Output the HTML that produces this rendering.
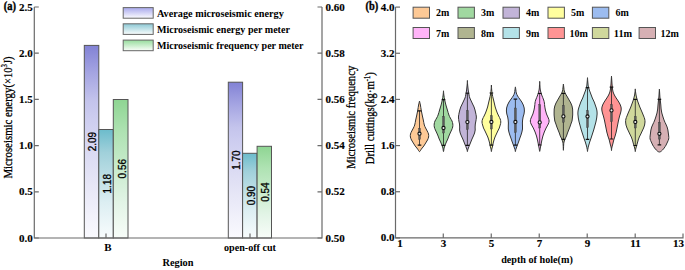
<!DOCTYPE html>
<html><head><meta charset="utf-8"><title>chart</title>
<style>html,body{margin:0;padding:0;background:#fff;}svg{display:block;}</style>
</head><body>
<svg width="685" height="270" viewBox="0 0 685 270"><defs><linearGradient id="gp" x1="0" y1="0" x2="0" y2="1"><stop offset="0" stop-color="rgb(130,130,213)"/><stop offset="0.14" stop-color="rgb(164,164,226)"/><stop offset="0.29" stop-color="rgb(196,196,236)"/><stop offset="0.39" stop-color="rgb(206,206,240)"/><stop offset="0.66" stop-color="rgb(226,226,245)"/><stop offset="1" stop-color="rgb(250,250,254)"/></linearGradient><linearGradient id="gt" x1="0" y1="0" x2="0" y2="1"><stop offset="0" stop-color="rgb(108,188,204)"/><stop offset="0.21" stop-color="rgb(160,208,218)"/><stop offset="0.67" stop-color="rgb(220,238,242)"/><stop offset="1" stop-color="rgb(248,252,253)"/></linearGradient><linearGradient id="gg" x1="0" y1="0" x2="0" y2="1"><stop offset="0" stop-color="rgb(142,213,146)"/><stop offset="0.23" stop-color="rgb(174,226,178)"/><stop offset="0.74" stop-color="rgb(226,244,230)"/><stop offset="1" stop-color="rgb(248,253,249)"/></linearGradient><linearGradient id="lp" x1="0" y1="0" x2="0" y2="1"><stop offset="0" stop-color="rgb(168,168,236)"/><stop offset="1" stop-color="rgb(252,252,255)"/></linearGradient><linearGradient id="lt" x1="0" y1="0" x2="0" y2="1"><stop offset="0" stop-color="rgb(140,200,212)"/><stop offset="1" stop-color="rgb(250,253,253)"/></linearGradient><linearGradient id="lg" x1="0" y1="0" x2="0" y2="1"><stop offset="0" stop-color="rgb(150,220,156)"/><stop offset="1" stop-color="rgb(250,254,250)"/></linearGradient></defs><rect x="84.3" y="45.4" width="14.50" height="192.60" fill="url(#gp)" stroke="#555" stroke-width="1"/>
<rect x="98.8" y="129.5" width="14.50" height="108.50" fill="url(#gt)" stroke="#555" stroke-width="1"/>
<rect x="113.3" y="99.5" width="14.70" height="138.50" fill="url(#gg)" stroke="#555" stroke-width="1"/>
<rect x="228.3" y="82.2" width="14.30" height="155.80" fill="url(#gp)" stroke="#555" stroke-width="1"/>
<rect x="242.6" y="153.3" width="14.50" height="84.70" fill="url(#gt)" stroke="#555" stroke-width="1"/>
<rect x="257.1" y="146.3" width="14.40" height="91.70" fill="url(#gg)" stroke="#555" stroke-width="1"/>
<text transform="translate(96.45,141.70) rotate(-90)" text-anchor="middle" font-size="10" font-family="'Liberation Sans', sans-serif" stroke="#000" stroke-width="0.3" textLength="19.3" lengthAdjust="spacingAndGlyphs" x="0" y="0">2.09</text>
<text transform="translate(110.95,183.75) rotate(-90)" text-anchor="middle" font-size="10" font-family="'Liberation Sans', sans-serif" stroke="#000" stroke-width="0.3" textLength="19.3" lengthAdjust="spacingAndGlyphs" x="0" y="0">1.18</text>
<text transform="translate(125.55,168.75) rotate(-90)" text-anchor="middle" font-size="10" font-family="'Liberation Sans', sans-serif" stroke="#000" stroke-width="0.3" textLength="19.3" lengthAdjust="spacingAndGlyphs" x="0" y="0">0.56</text>
<text transform="translate(240.35,160.10) rotate(-90)" text-anchor="middle" font-size="10" font-family="'Liberation Sans', sans-serif" stroke="#000" stroke-width="0.3" textLength="19.3" lengthAdjust="spacingAndGlyphs" x="0" y="0">1.70</text>
<text transform="translate(254.75,195.65) rotate(-90)" text-anchor="middle" font-size="10" font-family="'Liberation Sans', sans-serif" stroke="#000" stroke-width="0.3" textLength="19.3" lengthAdjust="spacingAndGlyphs" x="0" y="0">0.90</text>
<text transform="translate(269.20,192.15) rotate(-90)" text-anchor="middle" font-size="10" font-family="'Liberation Sans', sans-serif" stroke="#000" stroke-width="0.3" textLength="19.3" lengthAdjust="spacingAndGlyphs" x="0" y="0">0.54</text>
<path d="M34.3,7.0 V238.0 H322.0 V7.0" fill="none" stroke="#6a6a6a" stroke-width="1.2"/>
<path d="M34.3,238.00 h4.5 M322.0,238.00 h-4.5" stroke="#6a6a6a" stroke-width="1.2"/>
<text x="32.8" y="241.50" text-anchor="end" font-size="11" font-weight="bold" font-family="'Liberation Serif', serif" stroke="#000" stroke-width="0.15">0.0</text>
<text x="325.6" y="241.50" text-anchor="start" font-size="11" font-weight="bold" font-family="'Liberation Serif', serif" stroke="#000" stroke-width="0.15">0.50</text>
<path d="M34.3,191.80 h4.5 M322.0,191.80 h-4.5" stroke="#6a6a6a" stroke-width="1.2"/>
<text x="32.8" y="195.30" text-anchor="end" font-size="11" font-weight="bold" font-family="'Liberation Serif', serif" stroke="#000" stroke-width="0.15">0.5</text>
<text x="325.6" y="195.30" text-anchor="start" font-size="11" font-weight="bold" font-family="'Liberation Serif', serif" stroke="#000" stroke-width="0.15">0.52</text>
<path d="M34.3,145.60 h4.5 M322.0,145.60 h-4.5" stroke="#6a6a6a" stroke-width="1.2"/>
<text x="32.8" y="149.10" text-anchor="end" font-size="11" font-weight="bold" font-family="'Liberation Serif', serif" stroke="#000" stroke-width="0.15">1.0</text>
<text x="325.6" y="149.10" text-anchor="start" font-size="11" font-weight="bold" font-family="'Liberation Serif', serif" stroke="#000" stroke-width="0.15">0.54</text>
<path d="M34.3,99.40 h4.5 M322.0,99.40 h-4.5" stroke="#6a6a6a" stroke-width="1.2"/>
<text x="32.8" y="102.90" text-anchor="end" font-size="11" font-weight="bold" font-family="'Liberation Serif', serif" stroke="#000" stroke-width="0.15">1.5</text>
<text x="325.6" y="102.90" text-anchor="start" font-size="11" font-weight="bold" font-family="'Liberation Serif', serif" stroke="#000" stroke-width="0.15">0.56</text>
<path d="M34.3,53.20 h4.5 M322.0,53.20 h-4.5" stroke="#6a6a6a" stroke-width="1.2"/>
<text x="32.8" y="56.70" text-anchor="end" font-size="11" font-weight="bold" font-family="'Liberation Serif', serif" stroke="#000" stroke-width="0.15">2.0</text>
<text x="325.6" y="56.70" text-anchor="start" font-size="11" font-weight="bold" font-family="'Liberation Serif', serif" stroke="#000" stroke-width="0.15">0.58</text>
<path d="M34.3,7.00 h4.5 M322.0,7.00 h-4.5" stroke="#6a6a6a" stroke-width="1.2"/>
<text x="32.8" y="10.50" text-anchor="end" font-size="11" font-weight="bold" font-family="'Liberation Serif', serif" stroke="#000" stroke-width="0.15">2.5</text>
<text x="325.6" y="10.50" text-anchor="start" font-size="11" font-weight="bold" font-family="'Liberation Serif', serif" stroke="#000" stroke-width="0.15">0.60</text>
<path d="M106.0,238.0 v-4.5" stroke="#6a6a6a" stroke-width="1.2"/>
<path d="M250.0,238.0 v-4.5" stroke="#6a6a6a" stroke-width="1.2"/>
<text x="108" y="251.3" text-anchor="middle" font-size="11" font-weight="bold" font-family="'Liberation Serif', serif" >B</text>
<text x="250" y="251.2" text-anchor="middle" font-size="11" font-weight="bold" font-family="'Liberation Serif', serif" textLength="52" lengthAdjust="spacingAndGlyphs" >open-off cut</text>
<text x="178" y="266.2" text-anchor="middle" font-size="11" font-weight="bold" font-family="'Liberation Serif', serif" textLength="31" lengthAdjust="spacingAndGlyphs" >Region</text>
<text x="3.7" y="9.7" text-anchor="start" font-size="12" font-weight="bold" font-family="'Liberation Serif', serif" textLength="12.2" lengthAdjust="spacingAndGlyphs" stroke="#000" stroke-width="0.4">(a)</text>
<text transform="translate(11.5,178.6) rotate(-90)" font-size="12" font-weight="normal" stroke="#000" stroke-width="0.3" font-family="'Liberation Serif', serif" textLength="91" lengthAdjust="spacingAndGlyphs">Microseismic energy</text>
<text transform="translate(11.5,87.5) rotate(-90)" font-size="11.5" stroke="#000" stroke-width="0.2" font-family="'Liberation Serif', serif" textLength="31" lengthAdjust="spacingAndGlyphs">(×10<tspan font-size="7.5" dy="-4.5">3</tspan><tspan dy="4.5">J)</tspan></text>
<text transform="translate(355.4,168.8) rotate(-90)" font-size="12.5" font-weight="normal" stroke="#000" stroke-width="0.3" font-family="'Liberation Serif', serif" textLength="103" lengthAdjust="spacingAndGlyphs">Microseismic frequency</text>
<text transform="translate(373.6,164.2) rotate(-90)" font-size="12.5" font-weight="normal" stroke="#000" stroke-width="0.3" font-family="'Liberation Serif', serif" textLength="92" lengthAdjust="spacingAndGlyphs">Drill cuttings(kg·m<tspan font-size="7.5" dy="-4">-1</tspan><tspan dy="4">)</tspan></text>
<rect x="123.2" y="7.6" width="30" height="10.6" fill="url(#lp)" stroke="#666" stroke-width="1"/>
<text x="157" y="16.50" text-anchor="start" font-size="11" font-weight="bold" font-family="'Liberation Serif', serif" textLength="126.8" lengthAdjust="spacingAndGlyphs" >Average microseismic energy</text>
<rect x="123.2" y="23.8" width="30" height="10.6" fill="url(#lt)" stroke="#666" stroke-width="1"/>
<text x="157" y="32.70" text-anchor="start" font-size="11" font-weight="bold" font-family="'Liberation Serif', serif" textLength="132.9" lengthAdjust="spacingAndGlyphs" >Microseismic energy per meter</text>
<rect x="123.2" y="40.1" width="30" height="10.6" fill="url(#lg)" stroke="#666" stroke-width="1"/>
<text x="157" y="49.00" text-anchor="start" font-size="11" font-weight="bold" font-family="'Liberation Serif', serif" textLength="146.5" lengthAdjust="spacingAndGlyphs" >Microseismic frequency per meter</text>
<path d="M395.5,7.1 V237.9 H683.0 v-4.5" fill="none" stroke="#6a6a6a" stroke-width="1.2"/>
<path d="M395.5,237.90 h4.5" stroke="#6a6a6a" stroke-width="1.2"/>
<text x="394.6" y="241.40" text-anchor="end" font-size="11" font-weight="bold" font-family="'Liberation Serif', serif" stroke="#000" stroke-width="0.15">0.0</text>
<path d="M395.5,191.74 h4.5" stroke="#6a6a6a" stroke-width="1.2"/>
<text x="394.6" y="195.24" text-anchor="end" font-size="11" font-weight="bold" font-family="'Liberation Serif', serif" stroke="#000" stroke-width="0.15">0.8</text>
<path d="M395.5,145.58 h4.5" stroke="#6a6a6a" stroke-width="1.2"/>
<text x="394.6" y="149.08" text-anchor="end" font-size="11" font-weight="bold" font-family="'Liberation Serif', serif" stroke="#000" stroke-width="0.15">1.6</text>
<path d="M395.5,99.42 h4.5" stroke="#6a6a6a" stroke-width="1.2"/>
<text x="394.6" y="102.92" text-anchor="end" font-size="11" font-weight="bold" font-family="'Liberation Serif', serif" stroke="#000" stroke-width="0.15">2.4</text>
<path d="M395.5,53.26 h4.5" stroke="#6a6a6a" stroke-width="1.2"/>
<text x="394.6" y="56.76" text-anchor="end" font-size="11" font-weight="bold" font-family="'Liberation Serif', serif" stroke="#000" stroke-width="0.15">3.2</text>
<path d="M395.5,7.10 h4.5" stroke="#6a6a6a" stroke-width="1.2"/>
<text x="394.6" y="10.60" text-anchor="end" font-size="11" font-weight="bold" font-family="'Liberation Serif', serif" stroke="#000" stroke-width="0.15">4.0</text>
<text x="400" y="247.3" text-anchor="middle" font-size="11" font-weight="bold" font-family="'Liberation Serif', serif" stroke="#000" stroke-width="0.15">1</text>
<path d="M443.28,237.9 v-4.5" stroke="#6a6a6a" stroke-width="1.2"/>
<text x="443.58" y="247.3" text-anchor="middle" font-size="11" font-weight="bold" font-family="'Liberation Serif', serif" stroke="#000" stroke-width="0.15">3</text>
<path d="M491.26,237.9 v-4.5" stroke="#6a6a6a" stroke-width="1.2"/>
<text x="491.56" y="247.3" text-anchor="middle" font-size="11" font-weight="bold" font-family="'Liberation Serif', serif" stroke="#000" stroke-width="0.15">5</text>
<path d="M539.24,237.9 v-4.5" stroke="#6a6a6a" stroke-width="1.2"/>
<text x="539.54" y="247.3" text-anchor="middle" font-size="11" font-weight="bold" font-family="'Liberation Serif', serif" stroke="#000" stroke-width="0.15">7</text>
<path d="M587.22,237.9 v-4.5" stroke="#6a6a6a" stroke-width="1.2"/>
<text x="587.52" y="247.3" text-anchor="middle" font-size="11" font-weight="bold" font-family="'Liberation Serif', serif" stroke="#000" stroke-width="0.15">9</text>
<path d="M635.20,237.9 v-4.5" stroke="#6a6a6a" stroke-width="1.2"/>
<text x="635.50" y="247.3" text-anchor="middle" font-size="11" font-weight="bold" font-family="'Liberation Serif', serif" stroke="#000" stroke-width="0.15">11</text>
<text x="684" y="247.3" text-anchor="end" font-size="11" font-weight="bold" font-family="'Liberation Serif', serif" stroke="#000" stroke-width="0.15">13</text>
<text x="537" y="262.6" text-anchor="middle" font-size="11" font-weight="bold" font-family="'Liberation Serif', serif" textLength="71.6" lengthAdjust="spacingAndGlyphs" >depth of hole(m)</text>
<text x="365.6" y="9.7" text-anchor="start" font-size="12" font-weight="bold" font-family="'Liberation Serif', serif" textLength="12.7" lengthAdjust="spacingAndGlyphs" stroke="#000" stroke-width="0.4">(b)</text>
<rect x="413.1" y="7.2" width="16.4" height="11" fill="#FDC996" stroke="#555" stroke-width="1"/>
<text x="436.10" y="16.20" text-anchor="start" font-size="11" font-weight="bold" font-family="'Liberation Serif', serif" textLength="13.3" lengthAdjust="spacingAndGlyphs" >2m</text>
<rect x="458.0" y="7.2" width="16.4" height="11" fill="#A0D8A0" stroke="#555" stroke-width="1"/>
<text x="481.00" y="16.20" text-anchor="start" font-size="11" font-weight="bold" font-family="'Liberation Serif', serif" textLength="13.3" lengthAdjust="spacingAndGlyphs" >3m</text>
<rect x="503.0" y="7.2" width="16.4" height="11" fill="#C2B4D8" stroke="#555" stroke-width="1"/>
<text x="526.00" y="16.20" text-anchor="start" font-size="11" font-weight="bold" font-family="'Liberation Serif', serif" textLength="13.3" lengthAdjust="spacingAndGlyphs" >4m</text>
<rect x="548.0" y="7.2" width="16.4" height="11" fill="#FFFE9E" stroke="#555" stroke-width="1"/>
<text x="571.00" y="16.20" text-anchor="start" font-size="11" font-weight="bold" font-family="'Liberation Serif', serif" textLength="13.3" lengthAdjust="spacingAndGlyphs" >5m</text>
<rect x="592.4" y="7.2" width="16.4" height="11" fill="#9CBCF0" stroke="#555" stroke-width="1"/>
<text x="615.40" y="16.20" text-anchor="start" font-size="11" font-weight="bold" font-family="'Liberation Serif', serif" textLength="13.3" lengthAdjust="spacingAndGlyphs" >6m</text>
<rect x="413.1" y="27.5" width="16.4" height="11" fill="#FFB4F8" stroke="#555" stroke-width="1"/>
<text x="436.10" y="36.50" text-anchor="start" font-size="11" font-weight="bold" font-family="'Liberation Serif', serif" textLength="13.3" lengthAdjust="spacingAndGlyphs" >7m</text>
<rect x="458.0" y="27.5" width="16.4" height="11" fill="#B0B490" stroke="#555" stroke-width="1"/>
<text x="481.00" y="36.50" text-anchor="start" font-size="11" font-weight="bold" font-family="'Liberation Serif', serif" textLength="13.3" lengthAdjust="spacingAndGlyphs" >8m</text>
<rect x="503.0" y="27.5" width="16.4" height="11" fill="#B4E2E8" stroke="#555" stroke-width="1"/>
<text x="526.00" y="36.50" text-anchor="start" font-size="11" font-weight="bold" font-family="'Liberation Serif', serif" textLength="13.3" lengthAdjust="spacingAndGlyphs" >9m</text>
<rect x="548.0" y="27.5" width="16.4" height="11" fill="#FF9494" stroke="#555" stroke-width="1"/>
<text x="569.40" y="36.50" text-anchor="start" font-size="11" font-weight="bold" font-family="'Liberation Serif', serif" textLength="18.4" lengthAdjust="spacingAndGlyphs" >10m</text>
<rect x="592.4" y="27.5" width="16.4" height="11" fill="#D0D89C" stroke="#555" stroke-width="1"/>
<text x="613.80" y="36.50" text-anchor="start" font-size="11" font-weight="bold" font-family="'Liberation Serif', serif" textLength="18.4" lengthAdjust="spacingAndGlyphs" >11m</text>
<rect x="639.1" y="27.5" width="16.4" height="11" fill="#D6B0B4" stroke="#555" stroke-width="1"/>
<text x="660.50" y="36.50" text-anchor="start" font-size="11" font-weight="bold" font-family="'Liberation Serif', serif" textLength="18.4" lengthAdjust="spacingAndGlyphs" >12m</text>
<path d="M419.50,101.10 C419.65,101.75 420.12,103.52 420.40,105.00 C420.68,106.48 420.90,108.33 421.20,110.00 C421.50,111.67 421.85,113.33 422.20,115.00 C422.55,116.67 422.95,118.33 423.30,120.00 C423.65,121.67 423.92,123.67 424.30,125.00 C424.68,126.33 425.12,127.00 425.60,128.00 C426.08,129.00 426.72,130.00 427.20,131.00 C427.68,132.00 428.27,133.00 428.50,134.00 C428.73,135.00 428.77,136.00 428.60,137.00 C428.43,138.00 427.98,139.00 427.50,140.00 C427.02,141.00 426.32,142.00 425.70,143.00 C425.08,144.00 424.52,145.00 423.80,146.00 C423.08,147.00 422.12,148.07 421.40,149.00 C420.68,149.93 420.13,151.60 419.50,151.60 C418.87,151.60 418.32,149.93 417.60,149.00 C416.88,148.07 415.92,147.00 415.20,146.00 C414.48,145.00 413.92,144.00 413.30,143.00 C412.68,142.00 411.98,141.00 411.50,140.00 C411.02,139.00 410.57,138.00 410.40,137.00 C410.23,136.00 410.27,135.00 410.50,134.00 C410.73,133.00 411.32,132.00 411.80,131.00 C412.28,130.00 412.92,129.00 413.40,128.00 C413.88,127.00 414.32,126.33 414.70,125.00 C415.08,123.67 415.35,121.67 415.70,120.00 C416.05,118.33 416.45,116.67 416.80,115.00 C417.15,113.33 417.50,111.67 417.80,110.00 C418.10,108.33 418.32,106.48 418.60,105.00 C418.88,103.52 419.35,101.75 419.50,101.10 Z" fill="#FDC996" stroke="#333" stroke-width="1.0"/>
<path d="M419.50,110.8 V145.2" stroke="#222" stroke-width="0.8"/>
<path d="M417.70,110.8 h3.6 M417.70,145.2 h3.6" stroke="#111" stroke-width="1.2"/>
<rect x="418.55" y="128.3" width="1.9" height="11.10" fill="#5a5a5a" stroke="#333" stroke-width="0.35"/>
<circle cx="419.50" cy="133.7" r="1.6" fill="#f0f0f0" stroke="#111" stroke-width="1.1"/>
<path d="M443.50,90.80 C443.56,91.50 443.65,93.47 443.85,95.00 C444.05,96.53 444.36,98.33 444.70,100.00 C445.04,101.67 445.45,103.33 445.90,105.00 C446.35,106.67 446.90,108.33 447.40,110.00 C447.90,111.67 448.42,113.67 448.90,115.00 C449.38,116.33 449.78,117.00 450.30,118.00 C450.82,119.00 451.58,120.00 452.00,121.00 C452.42,122.00 452.68,123.00 452.80,124.00 C452.92,125.00 452.90,126.00 452.70,127.00 C452.50,128.00 452.02,129.00 451.60,130.00 C451.18,131.00 450.65,132.00 450.20,133.00 C449.75,134.00 449.30,135.00 448.90,136.00 C448.50,137.00 448.22,138.00 447.80,139.00 C447.38,140.00 446.85,141.00 446.40,142.00 C445.95,143.00 445.48,144.00 445.10,145.00 C444.72,146.00 444.37,146.90 444.10,148.00 C443.83,149.10 443.70,151.60 443.50,151.60 C443.30,151.60 443.17,149.10 442.90,148.00 C442.63,146.90 442.28,146.00 441.90,145.00 C441.52,144.00 441.05,143.00 440.60,142.00 C440.15,141.00 439.62,140.00 439.20,139.00 C438.78,138.00 438.50,137.00 438.10,136.00 C437.70,135.00 437.25,134.00 436.80,133.00 C436.35,132.00 435.82,131.00 435.40,130.00 C434.98,129.00 434.50,128.00 434.30,127.00 C434.10,126.00 434.08,125.00 434.20,124.00 C434.32,123.00 434.58,122.00 435.00,121.00 C435.42,120.00 436.18,119.00 436.70,118.00 C437.22,117.00 437.62,116.33 438.10,115.00 C438.58,113.67 439.10,111.67 439.60,110.00 C440.10,108.33 440.65,106.67 441.10,105.00 C441.55,103.33 441.96,101.67 442.30,100.00 C442.64,98.33 442.95,96.53 443.15,95.00 C443.35,93.47 443.44,91.50 443.50,90.80 Z" fill="#A0D8A0" stroke="#333" stroke-width="1.0"/>
<path d="M443.50,99.6 V145.3" stroke="#222" stroke-width="0.8"/>
<path d="M441.70,99.6 h3.6 M441.70,145.3 h3.6" stroke="#111" stroke-width="1.2"/>
<rect x="442.55" y="116.3" width="1.9" height="16.70" fill="#5a5a5a" stroke="#333" stroke-width="0.35"/>
<circle cx="443.50" cy="128.0" r="1.6" fill="#f0f0f0" stroke="#111" stroke-width="1.1"/>
<path d="M467.40,80.50 C467.44,81.25 467.52,83.42 467.65,85.00 C467.78,86.58 467.97,88.33 468.20,90.00 C468.43,91.67 468.78,93.67 469.05,95.00 C469.32,96.33 469.44,97.00 469.80,98.00 C470.16,99.00 470.73,100.00 471.20,101.00 C471.67,102.00 472.12,103.00 472.60,104.00 C473.07,105.00 473.65,106.00 474.05,107.00 C474.45,108.00 474.73,109.00 475.00,110.00 C475.27,111.00 475.49,112.00 475.70,113.00 C475.91,114.00 476.15,115.17 476.25,116.00 C476.35,116.83 476.36,117.17 476.30,118.00 C476.24,118.83 476.07,120.00 475.90,121.00 C475.73,122.00 475.43,123.00 475.30,124.00 C475.17,125.00 475.12,126.00 475.10,127.00 C475.08,128.00 475.28,129.00 475.20,130.00 C475.12,131.00 474.90,132.00 474.60,133.00 C474.30,134.00 473.83,135.00 473.40,136.00 C472.97,137.00 472.43,138.00 472.00,139.00 C471.57,140.00 471.20,141.00 470.80,142.00 C470.40,143.00 470.00,144.00 469.60,145.00 C469.20,146.00 468.72,147.17 468.40,148.00 C468.08,148.83 467.87,149.40 467.70,150.00 C467.53,150.60 467.50,151.60 467.40,151.60 C467.30,151.60 467.27,150.60 467.10,150.00 C466.93,149.40 466.72,148.83 466.40,148.00 C466.08,147.17 465.60,146.00 465.20,145.00 C464.80,144.00 464.40,143.00 464.00,142.00 C463.60,141.00 463.23,140.00 462.80,139.00 C462.37,138.00 461.83,137.00 461.40,136.00 C460.97,135.00 460.50,134.00 460.20,133.00 C459.90,132.00 459.68,131.00 459.60,130.00 C459.52,129.00 459.72,128.00 459.70,127.00 C459.68,126.00 459.63,125.00 459.50,124.00 C459.37,123.00 459.07,122.00 458.90,121.00 C458.73,120.00 458.56,118.83 458.50,118.00 C458.44,117.17 458.45,116.83 458.55,116.00 C458.65,115.17 458.89,114.00 459.10,113.00 C459.31,112.00 459.52,111.00 459.80,110.00 C460.07,109.00 460.35,108.00 460.75,107.00 C461.15,106.00 461.73,105.00 462.20,104.00 C462.67,103.00 463.13,102.00 463.60,101.00 C464.07,100.00 464.64,99.00 465.00,98.00 C465.36,97.00 465.48,96.33 465.75,95.00 C466.02,93.67 466.37,91.67 466.60,90.00 C466.83,88.33 467.02,86.58 467.15,85.00 C467.28,83.42 467.36,81.25 467.40,80.50 Z" fill="#C2B4D8" stroke="#333" stroke-width="1.0"/>
<path d="M467.40,93.2 V145.4" stroke="#222" stroke-width="0.8"/>
<path d="M465.60,93.2 h3.6 M465.60,145.4 h3.6" stroke="#111" stroke-width="1.2"/>
<rect x="466.45" y="110.7" width="1.9" height="18.90" fill="#5a5a5a" stroke="#333" stroke-width="0.35"/>
<circle cx="467.40" cy="122.1" r="1.6" fill="#f0f0f0" stroke="#111" stroke-width="1.1"/>
<path d="M491.40,85.10 C491.45,85.92 491.58,88.68 491.70,90.00 C491.82,91.32 491.98,92.17 492.10,93.00 C492.22,93.83 492.24,94.17 492.40,95.00 C492.56,95.83 492.82,97.00 493.05,98.00 C493.28,99.00 493.56,100.00 493.80,101.00 C494.04,102.00 494.27,103.00 494.50,104.00 C494.73,105.00 494.92,106.00 495.20,107.00 C495.48,108.00 495.85,109.00 496.20,110.00 C496.55,111.00 496.88,112.00 497.30,113.00 C497.72,114.00 498.22,115.00 498.70,116.00 C499.18,117.00 499.85,118.00 500.20,119.00 C500.55,120.00 500.80,121.00 500.80,122.00 C500.80,123.00 500.45,124.00 500.20,125.00 C499.95,126.00 499.70,127.00 499.30,128.00 C498.90,129.00 498.28,130.00 497.80,131.00 C497.32,132.00 496.87,133.00 496.40,134.00 C495.93,135.00 495.40,136.00 495.00,137.00 C494.60,138.00 494.30,139.00 494.00,140.00 C493.70,141.00 493.43,142.00 493.20,143.00 C492.97,144.00 492.83,145.00 492.60,146.00 C492.37,147.00 492.00,148.07 491.80,149.00 C491.60,149.93 491.53,151.60 491.40,151.60 C491.27,151.60 491.20,149.93 491.00,149.00 C490.80,148.07 490.43,147.00 490.20,146.00 C489.97,145.00 489.83,144.00 489.60,143.00 C489.37,142.00 489.10,141.00 488.80,140.00 C488.50,139.00 488.20,138.00 487.80,137.00 C487.40,136.00 486.87,135.00 486.40,134.00 C485.93,133.00 485.48,132.00 485.00,131.00 C484.52,130.00 483.90,129.00 483.50,128.00 C483.10,127.00 482.85,126.00 482.60,125.00 C482.35,124.00 482.00,123.00 482.00,122.00 C482.00,121.00 482.25,120.00 482.60,119.00 C482.95,118.00 483.62,117.00 484.10,116.00 C484.58,115.00 485.08,114.00 485.50,113.00 C485.92,112.00 486.25,111.00 486.60,110.00 C486.95,109.00 487.32,108.00 487.60,107.00 C487.88,106.00 488.07,105.00 488.30,104.00 C488.53,103.00 488.76,102.00 489.00,101.00 C489.24,100.00 489.52,99.00 489.75,98.00 C489.98,97.00 490.24,95.83 490.40,95.00 C490.56,94.17 490.58,93.83 490.70,93.00 C490.82,92.17 490.98,91.32 491.10,90.00 C491.22,88.68 491.35,85.92 491.40,85.10 Z" fill="#FFFE9E" stroke="#333" stroke-width="1.0"/>
<path d="M491.40,93.0 V145.2" stroke="#222" stroke-width="0.8"/>
<path d="M489.60,93.0 h3.6 M489.60,145.2 h3.6" stroke="#111" stroke-width="1.2"/>
<rect x="490.45" y="115.8" width="1.9" height="13.20" fill="#5a5a5a" stroke="#333" stroke-width="0.35"/>
<circle cx="491.40" cy="122.0" r="1.6" fill="#f0f0f0" stroke="#111" stroke-width="1.1"/>
<path d="M515.40,86.90 C515.48,87.42 515.70,88.98 515.85,90.00 C516.00,91.02 516.01,92.00 516.30,93.00 C516.59,94.00 517.03,95.00 517.60,96.00 C518.17,97.00 519.00,98.00 519.70,99.00 C520.40,100.00 521.20,101.00 521.80,102.00 C522.40,103.00 522.90,104.00 523.30,105.00 C523.70,106.00 524.02,107.00 524.20,108.00 C524.38,109.00 524.43,110.00 524.40,111.00 C524.37,112.00 524.22,113.00 524.00,114.00 C523.78,115.00 523.33,116.00 523.10,117.00 C522.87,118.00 522.72,119.00 522.60,120.00 C522.48,121.00 522.42,122.00 522.40,123.00 C522.38,124.00 522.48,125.00 522.50,126.00 C522.52,127.00 522.60,128.00 522.50,129.00 C522.40,130.00 522.15,131.00 521.90,132.00 C521.65,133.00 521.33,134.00 521.00,135.00 C520.67,136.00 520.25,137.00 519.90,138.00 C519.55,139.00 519.25,140.00 518.90,141.00 C518.55,142.00 518.17,143.00 517.80,144.00 C517.43,145.00 517.03,146.08 516.70,147.00 C516.37,147.92 516.02,148.73 515.80,149.50 C515.58,150.27 515.53,151.60 515.40,151.60 C515.27,151.60 515.22,150.27 515.00,149.50 C514.78,148.73 514.43,147.92 514.10,147.00 C513.77,146.08 513.37,145.00 513.00,144.00 C512.63,143.00 512.25,142.00 511.90,141.00 C511.55,140.00 511.25,139.00 510.90,138.00 C510.55,137.00 510.13,136.00 509.80,135.00 C509.47,134.00 509.15,133.00 508.90,132.00 C508.65,131.00 508.40,130.00 508.30,129.00 C508.20,128.00 508.28,127.00 508.30,126.00 C508.32,125.00 508.42,124.00 508.40,123.00 C508.38,122.00 508.32,121.00 508.20,120.00 C508.08,119.00 507.93,118.00 507.70,117.00 C507.47,116.00 507.02,115.00 506.80,114.00 C506.58,113.00 506.43,112.00 506.40,111.00 C506.37,110.00 506.42,109.00 506.60,108.00 C506.78,107.00 507.10,106.00 507.50,105.00 C507.90,104.00 508.40,103.00 509.00,102.00 C509.60,101.00 510.40,100.00 511.10,99.00 C511.80,98.00 512.63,97.00 513.20,96.00 C513.77,95.00 514.21,94.00 514.50,93.00 C514.79,92.00 514.80,91.02 514.95,90.00 C515.10,88.98 515.32,87.42 515.40,86.90 Z" fill="#9CBCF0" stroke="#333" stroke-width="1.0"/>
<path d="M515.40,99.2 V145.2" stroke="#222" stroke-width="0.8"/>
<path d="M513.60,99.2 h3.6 M513.60,145.2 h3.6" stroke="#111" stroke-width="1.2"/>
<rect x="514.45" y="108.0" width="1.9" height="24.60" fill="#5a5a5a" stroke="#333" stroke-width="0.35"/>
<circle cx="515.40" cy="122.0" r="1.6" fill="#f0f0f0" stroke="#111" stroke-width="1.1"/>
<path d="M539.70,81.40 C539.74,82.17 539.85,84.57 539.95,86.00 C540.05,87.43 540.01,88.50 540.30,90.00 C540.59,91.50 541.13,93.33 541.70,95.00 C542.27,96.67 543.25,98.67 543.70,100.00 C544.15,101.33 544.23,102.00 544.40,103.00 C544.57,104.00 544.53,104.83 544.70,106.00 C544.87,107.17 545.10,108.67 545.40,110.00 C545.70,111.33 546.02,112.67 546.50,114.00 C546.98,115.33 547.87,116.83 548.30,118.00 C548.73,119.17 549.10,120.00 549.10,121.00 C549.10,122.00 548.80,122.83 548.30,124.00 C547.80,125.17 546.77,126.67 546.10,128.00 C545.43,129.33 544.83,130.67 544.30,132.00 C543.77,133.33 543.30,134.67 542.90,136.00 C542.50,137.33 542.20,138.67 541.90,140.00 C541.60,141.33 541.37,142.67 541.10,144.00 C540.83,145.33 540.53,146.77 540.30,148.00 C540.07,149.23 539.90,151.40 539.70,151.40 C539.50,151.40 539.33,149.23 539.10,148.00 C538.87,146.77 538.57,145.33 538.30,144.00 C538.03,142.67 537.80,141.33 537.50,140.00 C537.20,138.67 536.90,137.33 536.50,136.00 C536.10,134.67 535.63,133.33 535.10,132.00 C534.57,130.67 533.97,129.33 533.30,128.00 C532.63,126.67 531.60,125.17 531.10,124.00 C530.60,122.83 530.30,122.00 530.30,121.00 C530.30,120.00 530.67,119.17 531.10,118.00 C531.53,116.83 532.42,115.33 532.90,114.00 C533.38,112.67 533.70,111.33 534.00,110.00 C534.30,108.67 534.53,107.17 534.70,106.00 C534.87,104.83 534.83,104.00 535.00,103.00 C535.17,102.00 535.25,101.33 535.70,100.00 C536.15,98.67 537.13,96.67 537.70,95.00 C538.27,93.33 538.81,91.50 539.10,90.00 C539.39,88.50 539.35,87.43 539.45,86.00 C539.55,84.57 539.66,82.17 539.70,81.40 Z" fill="#FFB4F8" stroke="#333" stroke-width="1.0"/>
<path d="M539.70,93.4 V145.0" stroke="#222" stroke-width="0.8"/>
<path d="M537.90,93.4 h3.6 M537.90,145.0 h3.6" stroke="#111" stroke-width="1.2"/>
<rect x="538.75" y="104.7" width="1.9" height="23.30" fill="#5a5a5a" stroke="#333" stroke-width="0.35"/>
<circle cx="539.70" cy="122.4" r="1.6" fill="#f0f0f0" stroke="#111" stroke-width="1.1"/>
<path d="M563.40,84.00 C563.48,84.67 563.70,86.83 563.85,88.00 C564.00,89.17 564.01,90.00 564.30,91.00 C564.59,92.00 565.08,93.00 565.60,94.00 C566.12,95.00 566.82,96.00 567.40,97.00 C567.98,98.00 568.53,99.00 569.10,100.00 C569.67,101.00 570.32,102.00 570.80,103.00 C571.28,104.00 571.70,105.00 572.00,106.00 C572.30,107.00 572.48,108.00 572.60,109.00 C572.72,110.00 572.68,111.00 572.70,112.00 C572.72,113.00 572.75,114.00 572.70,115.00 C572.65,116.00 572.52,117.00 572.40,118.00 C572.28,119.00 572.25,120.00 572.00,121.00 C571.75,122.00 571.25,123.00 570.90,124.00 C570.55,125.00 570.27,126.00 569.90,127.00 C569.53,128.00 569.10,129.00 568.70,130.00 C568.30,131.00 567.87,132.00 567.50,133.00 C567.13,134.00 566.92,135.00 566.50,136.00 C566.08,137.00 565.42,138.00 565.00,139.00 C564.58,140.00 564.23,141.00 564.00,142.00 C563.77,143.00 563.75,143.62 563.65,145.00 C563.55,146.38 563.48,150.30 563.40,150.30 C563.32,150.30 563.25,146.38 563.15,145.00 C563.05,143.62 563.02,143.00 562.80,142.00 C562.57,141.00 562.22,140.00 561.80,139.00 C561.38,138.00 560.72,137.00 560.30,136.00 C559.88,135.00 559.67,134.00 559.30,133.00 C558.93,132.00 558.50,131.00 558.10,130.00 C557.70,129.00 557.27,128.00 556.90,127.00 C556.53,126.00 556.25,125.00 555.90,124.00 C555.55,123.00 555.05,122.00 554.80,121.00 C554.55,120.00 554.52,119.00 554.40,118.00 C554.28,117.00 554.15,116.00 554.10,115.00 C554.05,114.00 554.08,113.00 554.10,112.00 C554.12,111.00 554.08,110.00 554.20,109.00 C554.32,108.00 554.50,107.00 554.80,106.00 C555.10,105.00 555.52,104.00 556.00,103.00 C556.48,102.00 557.13,101.00 557.70,100.00 C558.27,99.00 558.82,98.00 559.40,97.00 C559.98,96.00 560.68,95.00 561.20,94.00 C561.72,93.00 562.21,92.00 562.50,91.00 C562.79,90.00 562.80,89.17 562.95,88.00 C563.10,86.83 563.32,84.67 563.40,84.00 Z" fill="#B0B490" stroke="#333" stroke-width="1.0"/>
<path d="M563.40,93.4 V139.4" stroke="#222" stroke-width="0.8"/>
<path d="M561.60,93.4 h3.6 M561.60,139.4 h3.6" stroke="#111" stroke-width="1.2"/>
<rect x="562.45" y="105.4" width="1.9" height="16.80" fill="#5a5a5a" stroke="#333" stroke-width="0.35"/>
<circle cx="563.40" cy="116.4" r="1.6" fill="#f0f0f0" stroke="#111" stroke-width="1.1"/>
<path d="M587.50,77.70 C587.55,78.42 587.68,80.62 587.80,82.00 C587.92,83.38 587.95,84.67 588.20,86.00 C588.45,87.33 588.87,88.67 589.30,90.00 C589.73,91.33 590.30,92.67 590.80,94.00 C591.30,95.33 591.73,96.67 592.30,98.00 C592.87,99.33 593.65,100.67 594.20,102.00 C594.75,103.33 595.17,104.67 595.60,106.00 C596.03,107.33 596.55,108.67 596.80,110.00 C597.05,111.33 597.12,112.67 597.10,114.00 C597.08,115.33 596.90,116.67 596.70,118.00 C596.50,119.33 596.22,120.67 595.90,122.00 C595.58,123.33 595.17,124.67 594.80,126.00 C594.43,127.33 594.10,128.67 593.70,130.00 C593.30,131.33 592.83,132.67 592.40,134.00 C591.97,135.33 591.55,136.67 591.10,138.00 C590.65,139.33 590.13,140.67 589.70,142.00 C589.27,143.33 588.83,144.75 588.50,146.00 C588.17,147.25 587.92,148.58 587.75,149.50 C587.58,150.42 587.58,151.50 587.50,151.50 C587.42,151.50 587.42,150.42 587.25,149.50 C587.08,148.58 586.83,147.25 586.50,146.00 C586.17,144.75 585.73,143.33 585.30,142.00 C584.87,140.67 584.35,139.33 583.90,138.00 C583.45,136.67 583.03,135.33 582.60,134.00 C582.17,132.67 581.70,131.33 581.30,130.00 C580.90,128.67 580.57,127.33 580.20,126.00 C579.83,124.67 579.42,123.33 579.10,122.00 C578.78,120.67 578.50,119.33 578.30,118.00 C578.10,116.67 577.92,115.33 577.90,114.00 C577.88,112.67 577.95,111.33 578.20,110.00 C578.45,108.67 578.97,107.33 579.40,106.00 C579.83,104.67 580.25,103.33 580.80,102.00 C581.35,100.67 582.13,99.33 582.70,98.00 C583.27,96.67 583.70,95.33 584.20,94.00 C584.70,92.67 585.27,91.33 585.70,90.00 C586.13,88.67 586.55,87.33 586.80,86.00 C587.05,84.67 587.08,83.38 587.20,82.00 C587.32,80.62 587.45,78.42 587.50,77.70 Z" fill="#B4E2E8" stroke="#333" stroke-width="1.0"/>
<path d="M587.50,87.6 V139.3" stroke="#222" stroke-width="0.8"/>
<path d="M585.70,87.6 h3.6 M585.70,139.3 h3.6" stroke="#111" stroke-width="1.2"/>
<rect x="586.55" y="110.7" width="1.9" height="16.90" fill="#5a5a5a" stroke="#333" stroke-width="0.35"/>
<circle cx="587.50" cy="116.5" r="1.6" fill="#f0f0f0" stroke="#111" stroke-width="1.1"/>
<path d="M611.50,76.10 C611.54,76.75 611.67,78.68 611.75,80.00 C611.83,81.32 611.89,82.67 612.00,84.00 C612.11,85.33 612.22,86.67 612.40,88.00 C612.58,89.33 612.68,90.67 613.10,92.00 C613.52,93.33 614.17,94.67 614.90,96.00 C615.63,97.33 616.67,98.67 617.50,100.00 C618.33,101.33 619.28,102.67 619.90,104.00 C620.52,105.33 621.05,106.67 621.20,108.00 C621.35,109.33 621.07,110.67 620.80,112.00 C620.53,113.33 619.97,114.67 619.60,116.00 C619.23,117.33 618.90,118.67 618.60,120.00 C618.30,121.33 618.07,122.67 617.80,124.00 C617.53,125.33 617.27,126.67 617.00,128.00 C616.73,129.33 616.52,130.67 616.20,132.00 C615.88,133.33 615.51,134.67 615.10,136.00 C614.69,137.33 614.13,138.67 613.75,140.00 C613.37,141.33 613.13,142.67 612.80,144.00 C612.47,145.33 611.97,146.90 611.75,148.00 C611.53,149.10 611.58,150.60 611.50,150.60 C611.42,150.60 611.47,149.10 611.25,148.00 C611.03,146.90 610.53,145.33 610.20,144.00 C609.87,142.67 609.63,141.33 609.25,140.00 C608.87,138.67 608.31,137.33 607.90,136.00 C607.49,134.67 607.12,133.33 606.80,132.00 C606.48,130.67 606.27,129.33 606.00,128.00 C605.73,126.67 605.47,125.33 605.20,124.00 C604.93,122.67 604.70,121.33 604.40,120.00 C604.10,118.67 603.77,117.33 603.40,116.00 C603.03,114.67 602.47,113.33 602.20,112.00 C601.93,110.67 601.65,109.33 601.80,108.00 C601.95,106.67 602.48,105.33 603.10,104.00 C603.72,102.67 604.67,101.33 605.50,100.00 C606.33,98.67 607.37,97.33 608.10,96.00 C608.83,94.67 609.48,93.33 609.90,92.00 C610.32,90.67 610.42,89.33 610.60,88.00 C610.78,86.67 610.89,85.33 611.00,84.00 C611.11,82.67 611.17,81.32 611.25,80.00 C611.33,78.68 611.46,76.75 611.50,76.10 Z" fill="#FF9494" stroke="#333" stroke-width="1.0"/>
<path d="M611.50,87.1 V139.0" stroke="#222" stroke-width="0.8"/>
<path d="M609.70,87.1 h3.6 M609.70,139.0 h3.6" stroke="#111" stroke-width="1.2"/>
<rect x="610.55" y="104.6" width="1.9" height="17.20" fill="#5a5a5a" stroke="#333" stroke-width="0.35"/>
<circle cx="611.50" cy="110.4" r="1.6" fill="#f0f0f0" stroke="#111" stroke-width="1.1"/>
<path d="M635.30,88.90 C635.34,89.42 635.43,90.98 635.55,92.00 C635.67,93.02 635.81,94.00 636.00,95.00 C636.19,96.00 636.43,97.00 636.70,98.00 C636.97,99.00 637.27,100.00 637.60,101.00 C637.93,102.00 638.33,103.00 638.70,104.00 C639.07,105.00 639.40,106.00 639.80,107.00 C640.20,108.00 640.67,109.00 641.10,110.00 C641.53,111.00 641.98,112.00 642.40,113.00 C642.82,114.00 643.22,115.00 643.60,116.00 C643.98,117.00 644.47,118.00 644.70,119.00 C644.93,120.00 645.02,121.00 645.00,122.00 C644.98,123.00 644.83,124.00 644.60,125.00 C644.37,126.00 644.00,127.00 643.60,128.00 C643.20,129.00 642.67,130.00 642.20,131.00 C641.73,132.00 641.28,133.00 640.80,134.00 C640.32,135.00 639.73,136.00 639.30,137.00 C638.87,138.00 638.52,139.00 638.20,140.00 C637.88,141.00 637.68,142.00 637.40,143.00 C637.12,144.00 636.78,145.00 636.50,146.00 C636.22,147.00 635.90,148.07 635.70,149.00 C635.50,149.93 635.43,151.60 635.30,151.60 C635.17,151.60 635.10,149.93 634.90,149.00 C634.70,148.07 634.38,147.00 634.10,146.00 C633.82,145.00 633.48,144.00 633.20,143.00 C632.92,142.00 632.72,141.00 632.40,140.00 C632.08,139.00 631.73,138.00 631.30,137.00 C630.87,136.00 630.28,135.00 629.80,134.00 C629.32,133.00 628.87,132.00 628.40,131.00 C627.93,130.00 627.40,129.00 627.00,128.00 C626.60,127.00 626.23,126.00 626.00,125.00 C625.77,124.00 625.62,123.00 625.60,122.00 C625.58,121.00 625.67,120.00 625.90,119.00 C626.13,118.00 626.62,117.00 627.00,116.00 C627.38,115.00 627.78,114.00 628.20,113.00 C628.62,112.00 629.07,111.00 629.50,110.00 C629.93,109.00 630.40,108.00 630.80,107.00 C631.20,106.00 631.53,105.00 631.90,104.00 C632.27,103.00 632.67,102.00 633.00,101.00 C633.33,100.00 633.63,99.00 633.90,98.00 C634.17,97.00 634.41,96.00 634.60,95.00 C634.79,94.00 634.93,93.02 635.05,92.00 C635.17,90.98 635.26,89.42 635.30,88.90 Z" fill="#D0D89C" stroke="#333" stroke-width="1.0"/>
<path d="M635.30,99.3 V145.5" stroke="#222" stroke-width="0.8"/>
<path d="M633.50,99.3 h3.6 M633.50,145.5 h3.6" stroke="#111" stroke-width="1.2"/>
<rect x="634.35" y="116.4" width="1.9" height="11.60" fill="#5a5a5a" stroke="#333" stroke-width="0.35"/>
<circle cx="635.30" cy="122.0" r="1.6" fill="#f0f0f0" stroke="#111" stroke-width="1.1"/>
<path d="M659.40,89.10 C659.44,89.75 659.57,91.68 659.65,93.00 C659.73,94.32 659.77,95.67 659.90,97.00 C660.02,98.33 660.25,99.67 660.40,101.00 C660.55,102.33 660.68,103.67 660.80,105.00 C660.92,106.33 660.93,107.67 661.10,109.00 C661.27,110.33 661.48,111.67 661.80,113.00 C662.12,114.33 662.57,115.67 663.00,117.00 C663.43,118.33 663.93,119.83 664.40,121.00 C664.87,122.17 665.35,123.00 665.80,124.00 C666.25,125.00 666.75,126.00 667.10,127.00 C667.45,128.00 667.70,129.00 667.90,130.00 C668.10,131.00 668.17,132.00 668.30,133.00 C668.43,134.00 668.63,135.00 668.70,136.00 C668.77,137.00 668.90,138.00 668.70,139.00 C668.50,140.00 667.93,141.00 667.50,142.00 C667.07,143.00 666.65,144.00 666.10,145.00 C665.55,146.00 664.80,147.17 664.20,148.00 C663.60,148.83 663.07,149.42 662.50,150.00 C661.93,150.58 661.32,151.17 660.80,151.50 C660.28,151.83 659.87,152.00 659.40,152.00 C658.93,152.00 658.52,151.83 658.00,151.50 C657.48,151.17 656.87,150.58 656.30,150.00 C655.73,149.42 655.20,148.83 654.60,148.00 C654.00,147.17 653.25,146.00 652.70,145.00 C652.15,144.00 651.73,143.00 651.30,142.00 C650.87,141.00 650.30,140.00 650.10,139.00 C649.90,138.00 650.03,137.00 650.10,136.00 C650.17,135.00 650.37,134.00 650.50,133.00 C650.63,132.00 650.70,131.00 650.90,130.00 C651.10,129.00 651.35,128.00 651.70,127.00 C652.05,126.00 652.55,125.00 653.00,124.00 C653.45,123.00 653.93,122.17 654.40,121.00 C654.87,119.83 655.37,118.33 655.80,117.00 C656.23,115.67 656.68,114.33 657.00,113.00 C657.32,111.67 657.53,110.33 657.70,109.00 C657.87,107.67 657.88,106.33 658.00,105.00 C658.12,103.67 658.25,102.33 658.40,101.00 C658.55,99.67 658.77,98.33 658.90,97.00 C659.02,95.67 659.07,94.32 659.15,93.00 C659.23,91.68 659.36,89.75 659.40,89.10 Z" fill="#D6B0B4" stroke="#333" stroke-width="1.0"/>
<path d="M659.40,99.4 V144.9" stroke="#222" stroke-width="0.8"/>
<path d="M657.60,99.4 h3.6 M657.60,144.9 h3.6" stroke="#111" stroke-width="1.2"/>
<rect x="658.45" y="122.2" width="1.9" height="16.90" fill="#5a5a5a" stroke="#333" stroke-width="0.35"/>
<circle cx="659.40" cy="133.8" r="1.6" fill="#f0f0f0" stroke="#111" stroke-width="1.1"/></svg>
</body></html>
